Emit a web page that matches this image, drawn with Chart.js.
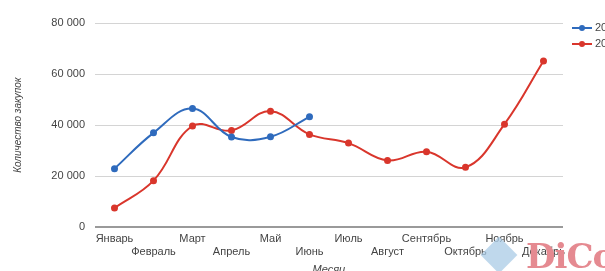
<!DOCTYPE html>
<html>
<head>
<meta charset="utf-8">
<script src="https://cdn.jsdelivr.net/npm/chart.js@4"></script>
<style>
  html, body { margin: 0; padding: 0; background: #fff; overflow: hidden; }
  #wrap { position: relative; width: 605px; height: 271px; overflow: hidden; }
  #box { position: absolute; left: 0; top: 0; width: 605px; height: 286px; }
  #logo { position: absolute; left: 526px; top: 236px; font-family: "DejaVu Serif", serif; font-weight: bold;
          font-size: 34px; color: #e58a91; letter-spacing: -1px; }
  #logo small { position: absolute; left: 8px; top: 36px; font-family: Arial, "Liberation Sans", sans-serif;
                font-size: 8px; font-weight: normal; color: #eeb3b8; white-space: nowrap; letter-spacing: 0; }
  #mark { position: absolute; left: 486px; top: 242px; width: 26px; height: 26px; background: #a9cbe6;
          opacity: 0.75; transform: rotate(45deg); }
</style>
</head>
<body>
<div id="wrap">
  <div id="box"><canvas id="myChart"></canvas></div>
  <div id="mark"></div>
  <div id="logo">DiCo<small>Business Connect</small></div>
</div>
<script>
var months = ['Январь', 'Февраль', 'Март', 'Апрель', 'Май', 'Июнь',
              'Июль', 'Август', 'Сентябрь', 'Октябрь', 'Ноябрь', 'Декабрь'];
var seriesNames = ['2013', '2012'];
var values2013 = [23000, 37000, 46500, 35400, 35500, 43300];
var values2012 = [7600, 18300, 39700, 37900, 45500, 36400, 33000, 26200, 29600, 23500, 40400, 65100];
var yTicks = [0, 20000, 40000, 60000, 80000];

var font = 'Arial, "Liberation Sans", sans-serif';

// legend drawn as line + dot, like the original
var lineLegend = {
    id: 'lineLegend',
    afterDraw: function(chart) {
        var c = chart.ctx;
        var x = chart.chartArea.right + 9;
        chart.data.datasets.forEach(function(ds, i) {
            var y = chart.chartArea.top + 5 + i * 16;
            c.save();
            c.strokeStyle = ds.borderColor;
            c.lineWidth = 2;
            c.beginPath();
            c.moveTo(x, y);
            c.lineTo(x + 20, y);
            c.stroke();
            c.fillStyle = ds.borderColor;
            c.beginPath();
            c.arc(x + 10, y, 3, 0, Math.PI * 2);
            c.fill();
            c.fillStyle = '#444';
            c.font = '11px ' + font;
            c.textBaseline = 'middle';
            c.fillText(ds.label, x + 23, y);
            c.restore();
        });
    }
};

var ctx = document.getElementById('myChart').getContext('2d');
var myChart = new Chart(ctx, {
    type: 'line',
    data: {
        labels: months,
        datasets: [
            {
                label: seriesNames[0],
                data: values2013,
                borderColor: '#2f6bbd',
                backgroundColor: '#2f6bbd',
                borderWidth: 2,
                pointRadius: 2.5,
                tension: 0.4
            },
            {
                label: seriesNames[1],
                data: values2012,
                borderColor: '#d9362c',
                backgroundColor: '#d9362c',
                borderWidth: 2,
                pointRadius: 2.5,
                tension: 0.4
            }
        ]
    },
    options: {
        responsive: true,
        maintainAspectRatio: false,
        animation: false,
        layout: { padding: { top: 23, right: 42, bottom: 5, left: 0 } },
        plugins: {
            legend: { display: false },
            tooltip: { enabled: false }
        },
        scales: {
            x: {
                offset: true,
                grid: { display: false, drawTicks: false, tickLength: 0 },
                border: { display: false },
                ticks: {
                    autoSkip: false,
                    maxRotation: 0,
                    padding: 5,
                    color: '#444',
                    font: { family: font, size: 11 },
                    callback: function(val, i) {
                        return i % 2 ? ['', months[i]] : [months[i]];
                    }
                },
                title: {
                    display: true,
                    text: 'Месяц',
                    color: '#444',
                    font: { family: font, size: 11, style: 'italic' },
                    padding: { top: 0, bottom: 4 }
                }
            },
            y: {
                min: 0,
                max: 80000,
                afterFit: function(scale) { scale.width = 95; },
                afterBuildTicks: function(scale) {
                    scale.ticks = yTicks.map(function(v) { return { value: v }; });
                },
                border: { display: false },
                grid: {
                    drawTicks: false,
                    color: function(c) { return c.tick && c.tick.value === 0 ? '#9a9a9a' : '#d4d4d4'; },
                    lineWidth: function(c) { return c.tick && c.tick.value === 0 ? 2 : 1; }
                },
                ticks: {
                    padding: 10,
                    color: '#444',
                    font: { family: font, size: 11 },
                    callback: function(v) {
                        return String(v).replace(/\B(?=(\d{3})+(?!\d))/g, ' ');
                    }
                },
                title: {
                    display: true,
                    text: 'Количество закупок',
                    color: '#444',
                    font: { family: font, size: 10, style: 'italic' },
                    padding: { top: 12, bottom: 0 }
                }
            }
        }
    },
    plugins: [lineLegend]
});
</script>
</body>
</html>
